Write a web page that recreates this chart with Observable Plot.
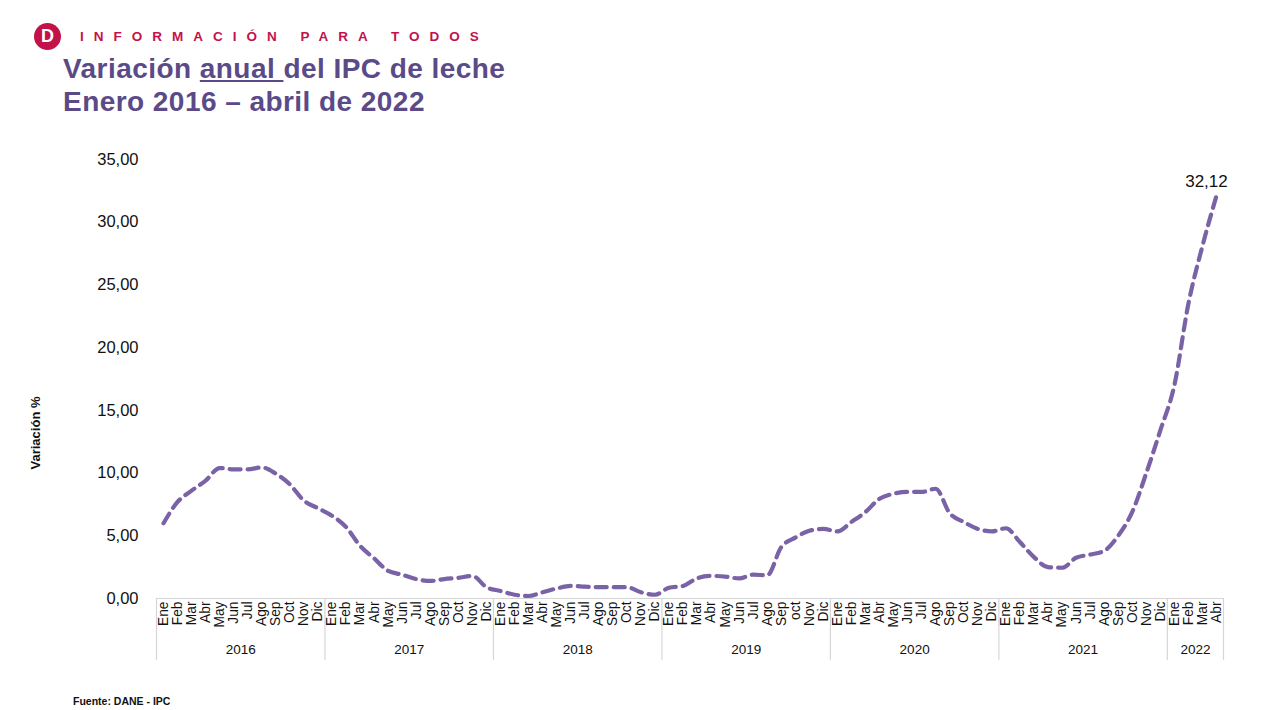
<!DOCTYPE html>
<html>
<head>
<meta charset="utf-8">
<script src="https://cdn.jsdelivr.net/npm/d3@7"></script>
<script src="https://cdn.jsdelivr.net/npm/@observablehq/plot@0.6"></script>
<style>
  html, body { margin: 0; padding: 0; background: #fff; width: 1280px; height: 710px; overflow: hidden; font-family: "Liberation Sans", Arial, sans-serif; }
  #header { position: absolute; left: 34px; top: 23px; display: flex; align-items: center; }
  #logo { width: 27px; height: 27px; border-radius: 50%; background: #c3124a; color: #fff; font-weight: bold; font-size: 18px; display: flex; align-items: center; justify-content: center; }
  #tag { margin-left: 19px; color: #c3124a; font-weight: bold; font-size: 13.5px; letter-spacing: 10px; }
  #title { position: absolute; left: 63px; top: 52px; color: #5b4a88; font-weight: bold; font-size: 28px; line-height: 33px; letter-spacing: 0.45px; }
  #chart { position: absolute; left: 0; top: 130px; }
  #source { position: absolute; left: 73px; top: 695px; font-size: 10.5px; font-weight: bold; color: #111; }
</style>
</head>
<body>
<div id="header"><div id="logo">D</div><div id="tag">INFORMACIÓN PARA TODOS</div></div>
<div id="title">Variación <u>anual </u>del IPC de leche<br>Enero 2016 – abril de 2022</div>
<div id="chart"></div>
<div id="source">Fuente: DANE - IPC</div>
<script>
// Year groups and their month tick labels (note the original writes "oct" in lowercase for 2019)
const years = ["2016", "2017", "2018", "2019", "2020", "2021", "2022"];
const monthLabels = [
  ["Ene","Feb","Mar","Abr","May","Jun","Jul","Ago","Sep","Oct","Nov","Dic"],
  ["Ene","Feb","Mar","Abr","May","Jun","Jul","Ago","Sep","Oct","Nov","Dic"],
  ["Ene","Feb","Mar","Abr","May","Jun","Jul","Ago","Sep","Oct","Nov","Dic"],
  ["Ene","Feb","Mar","Abr","May","Jun","Jul","Ago","Sep","oct","Nov","Dic"],
  ["Ene","Feb","Mar","Abr","May","Jun","Jul","Ago","Sep","Oct","Nov","Dic"],
  ["Ene","Feb","Mar","Abr","May","Jun","Jul","Ago","Sep","Oct","Nov","Dic"],
  ["Ene","Feb","Mar","Abr"]
];
// Annual variation (%) of milk CPI, one list per year
const v2016 = [6.0, 7.7, 8.6, 9.4, 10.4, 10.3, 10.3, 10.45, 9.95, 9.1, 7.8, 7.2];
const v2017 = [6.6, 5.7, 4.2, 3.2, 2.2, 1.9, 1.55, 1.4, 1.55, 1.65, 1.8, 0.9];
const v2018 = [0.6, 0.3, 0.2, 0.5, 0.8, 1.0, 0.95, 0.9, 0.9, 0.9, 0.5, 0.3];
const v2019 = [0.85, 1.0, 1.6, 1.8, 1.75, 1.6, 1.9, 1.85, 4.1, 4.85, 5.4, 5.55];
const v2020 = [5.35, 6.1, 6.9, 7.95, 8.35, 8.5, 8.5, 8.75, 6.8, 6.1, 5.55, 5.35];
const v2021 = [5.6, 4.5, 3.3, 2.5, 2.45, 3.25, 3.5, 3.8, 5.0, 6.9, 10.0, 13.4];
const v2022 = [17.0, 23.5, 28.1, 32.12];
const yTicks = [0, 5, 10, 15, 20, 25, 30, 35];
const valueLabel = "32,12";

const series = [v2016, v2017, v2018, v2019, v2020, v2021, v2022];
const data = [];
const groups = [];
series.forEach((vals, g) => {
  const start = data.length;
  vals.forEach((v, m) => data.push({i: data.length, v, label: monthLabels[g][m], year: years[g]}));
  groups.push({year: years[g], start, end: data.length - 1});
});
const n = data.length;
const boundaries = [...groups.map(g => g.start - 0.5), n - 0.5];
const centers = groups.map(g => (g.start + g.end) / 2);
const fmt = d => d.toFixed(2).replace(".", ",");

const plot = Plot.plot({
  width: 1280,
  height: 540,
  marginTop: 29,
  marginBottom: 72,
  marginLeft: 156,
  marginRight: 57,
  style: {fontFamily: "'Liberation Sans', Arial, sans-serif", color: "#111", background: "#fff"},
  x: {type: "linear", domain: [-0.5, n - 0.5], axis: null},
  y: {domain: [0, 35], axis: null},
  marks: [
    Plot.ruleY([0], {stroke: "#d6d6d6", strokeWidth: 1.2}),
    Plot.axisY({ticks: yTicks, tickSize: 0, tickPadding: 18, tickFormat: fmt, fontSize: 16.5, label: null}),
    Plot.axisX({ticks: boundaries, tickSize: 62, tickFormat: () => "", stroke: "#d6d6d6", strokeWidth: 1.2, label: null}),
    Plot.axisX({ticks: data.map(d => d.i), tickSize: 0, tickPadding: 3, tickRotate: -90, tickFormat: i => data[i].label, fontSize: 13.8, label: null}),
    Plot.axisX({ticks: centers, tickSize: 0, tickPadding: 46, tickFormat: (c, k) => groups[k].year, fontSize: 13.5, label: null}),
    Plot.text(["Variación %"], {frameAnchor: "left", textAnchor: "middle", dx: -121, dy: 54, rotate: -90, fontWeight: "bold", fontSize: 13, fill: "#111"}),
    Plot.line(data, {x: "i", y: "v", stroke: "#7a62a6", strokeWidth: 4.2, strokeDasharray: "11,7", curve: "monotone-x"}),
    Plot.text([data[n - 1]], {x: "i", y: "v", text: () => valueLabel, dx: -10, dy: -14, fontSize: 17, fill: "#111"})
  ]
});
document.getElementById("chart").appendChild(plot);
</script>
</body>
</html>
